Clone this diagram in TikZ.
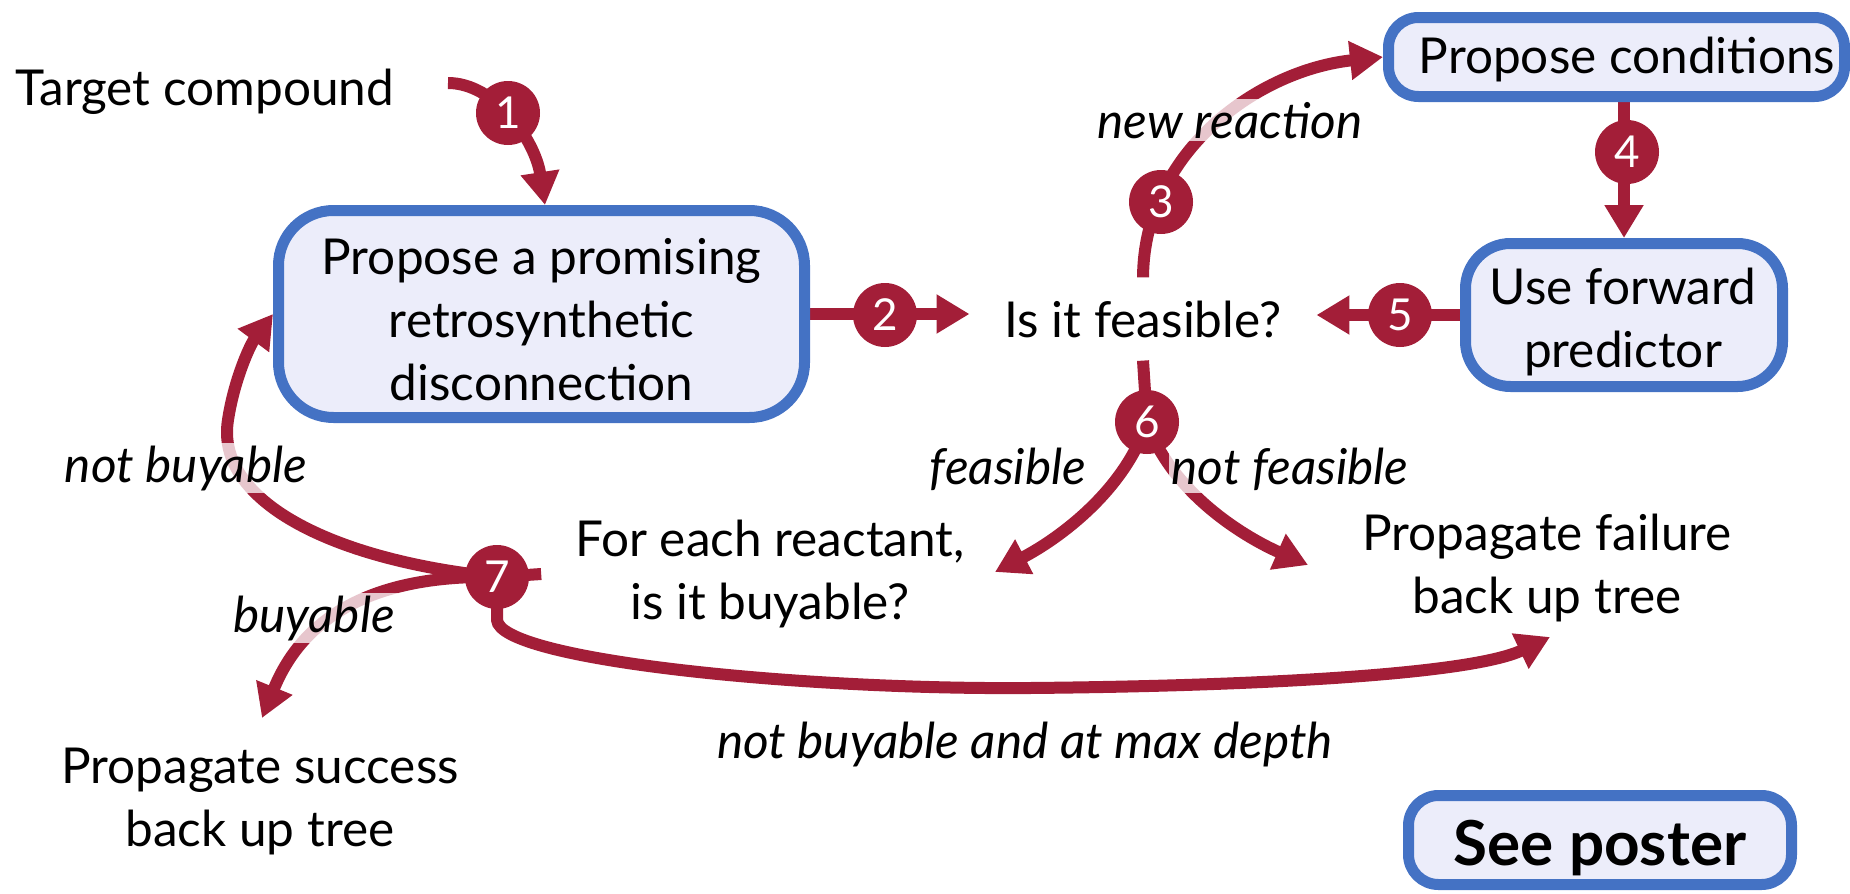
\documentclass[tikz,border=0pt]{standalone}
\usepackage{fontspec}
\setmainfont{Lato}
\usetikzlibrary{arrows.meta,backgrounds}
\definecolor{crim}{RGB}{163,30,56}
\definecolor{bblue}{RGB}{68,114,196}
\definecolor{bfill}{RGB}{236,237,250}
\begin{document}
\begin{tikzpicture}[x=1pt,y=-1pt,
  every node/.style={font=\fontsize{49.5}{63}\selectfont, inner sep=0pt},
  box/.style={draw=bblue, line width=11pt, fill=bfill},
  txt/.style={align=center},
  num/.style={circle, fill=crim, text=white, minimum size=64pt, font=\fontsize{44}{44}\selectfont},
  lbl/.style={font=\fontsize{49.5}{63}\selectfont\itshape, fill=white, fill opacity=0.75, text opacity=1, inner sep=3pt},
  conn/.style={draw=crim, line width=12pt},
  arr/.style={conn, -{Triangle[length=33pt,width=37pt]}},
]
\useasboundingbox (0,0) rectangle (1850,894);

% boxes
\node[box, minimum width=526pt, minimum height=207pt, rounded corners=55pt] (b1) at (541.5,314) {};
\node[box, minimum width=456pt, minimum height=79pt, rounded corners=30pt] (b2) at (1616.5,57) {};
\node[box, minimum width=317pt, minimum height=143pt, rounded corners=45pt] (b3) at (1624,315) {};
\node[box, minimum width=383pt, minimum height=89pt, rounded corners=30pt] (b4) at (1600,840) {};

% texts
\node[anchor=base] (tc) at (205,105) {Target compound};
\node[txt] (tb1) at (541.5,320) {Propose a promising\\retrosynthetic\\disconnection};
\node[anchor=base] (tb2) at (1627,73) {Propose conditions};
\node[txt] (tb3) at (1623,322) {Use forward\\predictor};
\node[anchor=base, font=\fontsize{62}{70}\selectfont\bfseries] (tb4) at (1600,865) {See poster};
\node[anchor=base, inner xsep=35pt, inner ysep=23pt] (feas) at (1143,337) {Is it feasible?};
\node[txt, inner xsep=34pt] (fer) at (770,574) {For each reactant,\\is it buyable?};
\node[txt] (ps) at (260,802) {Propagate success\\back up tree};
\node[txt] (pf) at (1547,568) {Propagate failure\\back up tree};

% free ends
\coordinate (s1) at (448,83);
\coordinate (e6a) at (995,572);
\coordinate (e6b) at (1308,565);
\coordinate (e7b) at (262,718);
\coordinate (e7c) at (1550,637);

% number circles
\node[num] (n1) at (508,113) {1};
\node[num] (n2) at (885,315) {2};
\node[num] (n3) at (1161,202) {3};
\node[num] (n4) at (1627,152) {4};
\node[num] (n5) at (1400,315) {5};
\node[num] (n6) at (1147,422) {6};
\node[num] (n7) at (497,577) {7};

% labels
\node[lbl, anchor=base] (lnr) at (1230,138) {new reaction};
\node[lbl, anchor=base] (lf) at (1008,484) {feasible};
\node[lbl, anchor=base] (lnf) at (1290,484) {not feasible};
\node[lbl, anchor=base] (lnb) at (186,482) {not buyable};
\node[lbl, anchor=base] (lb) at (314,632) {buyable};
\node[anchor=base, font=\fontsize{49.5}{63}\selectfont\itshape] (lmd) at (1025,758) {not buyable and at max depth};

\begin{scope}[on background layer]
\draw[arr] (s1) .. controls (495,83) and (535,140) .. (545,0 |- b1.north);
\draw[arr] (b1.east) -- (b1.east -| feas.west);
\draw[arr] (b3.west) -- (b3.west -| feas.east);
\draw[arr] (b3.north |- b2.south) -- (b3.north);
\draw[arr] (feas.north) .. controls (1144,150) and (1260,70) .. (b2.west);
\draw[conn] (feas.south) -- (n6.center);
\draw[arr] (n6.center) .. controls (1125,490) and (1060,538) .. (e6a);
\draw[arr] (n6.center) .. controls (1170,490) and (1240,535) .. (e6b);
\draw[conn] (fer.west) -- (n7.center);
\draw[arr] (n7.center) .. controls (330,560) and (215,500) .. (228,420) .. controls (234,380) and (250,345) .. (b1.west);
\draw[arr] (n7.center) .. controls (400,575) and (310,600) .. (e7b);
\draw[arr] (n7.center) -- (497,620) .. controls (500,660) and (800,690) .. (1030,688) .. controls (1250,686) and (1470,675) .. (e7c);
\end{scope}
\end{tikzpicture}
\end{document}
